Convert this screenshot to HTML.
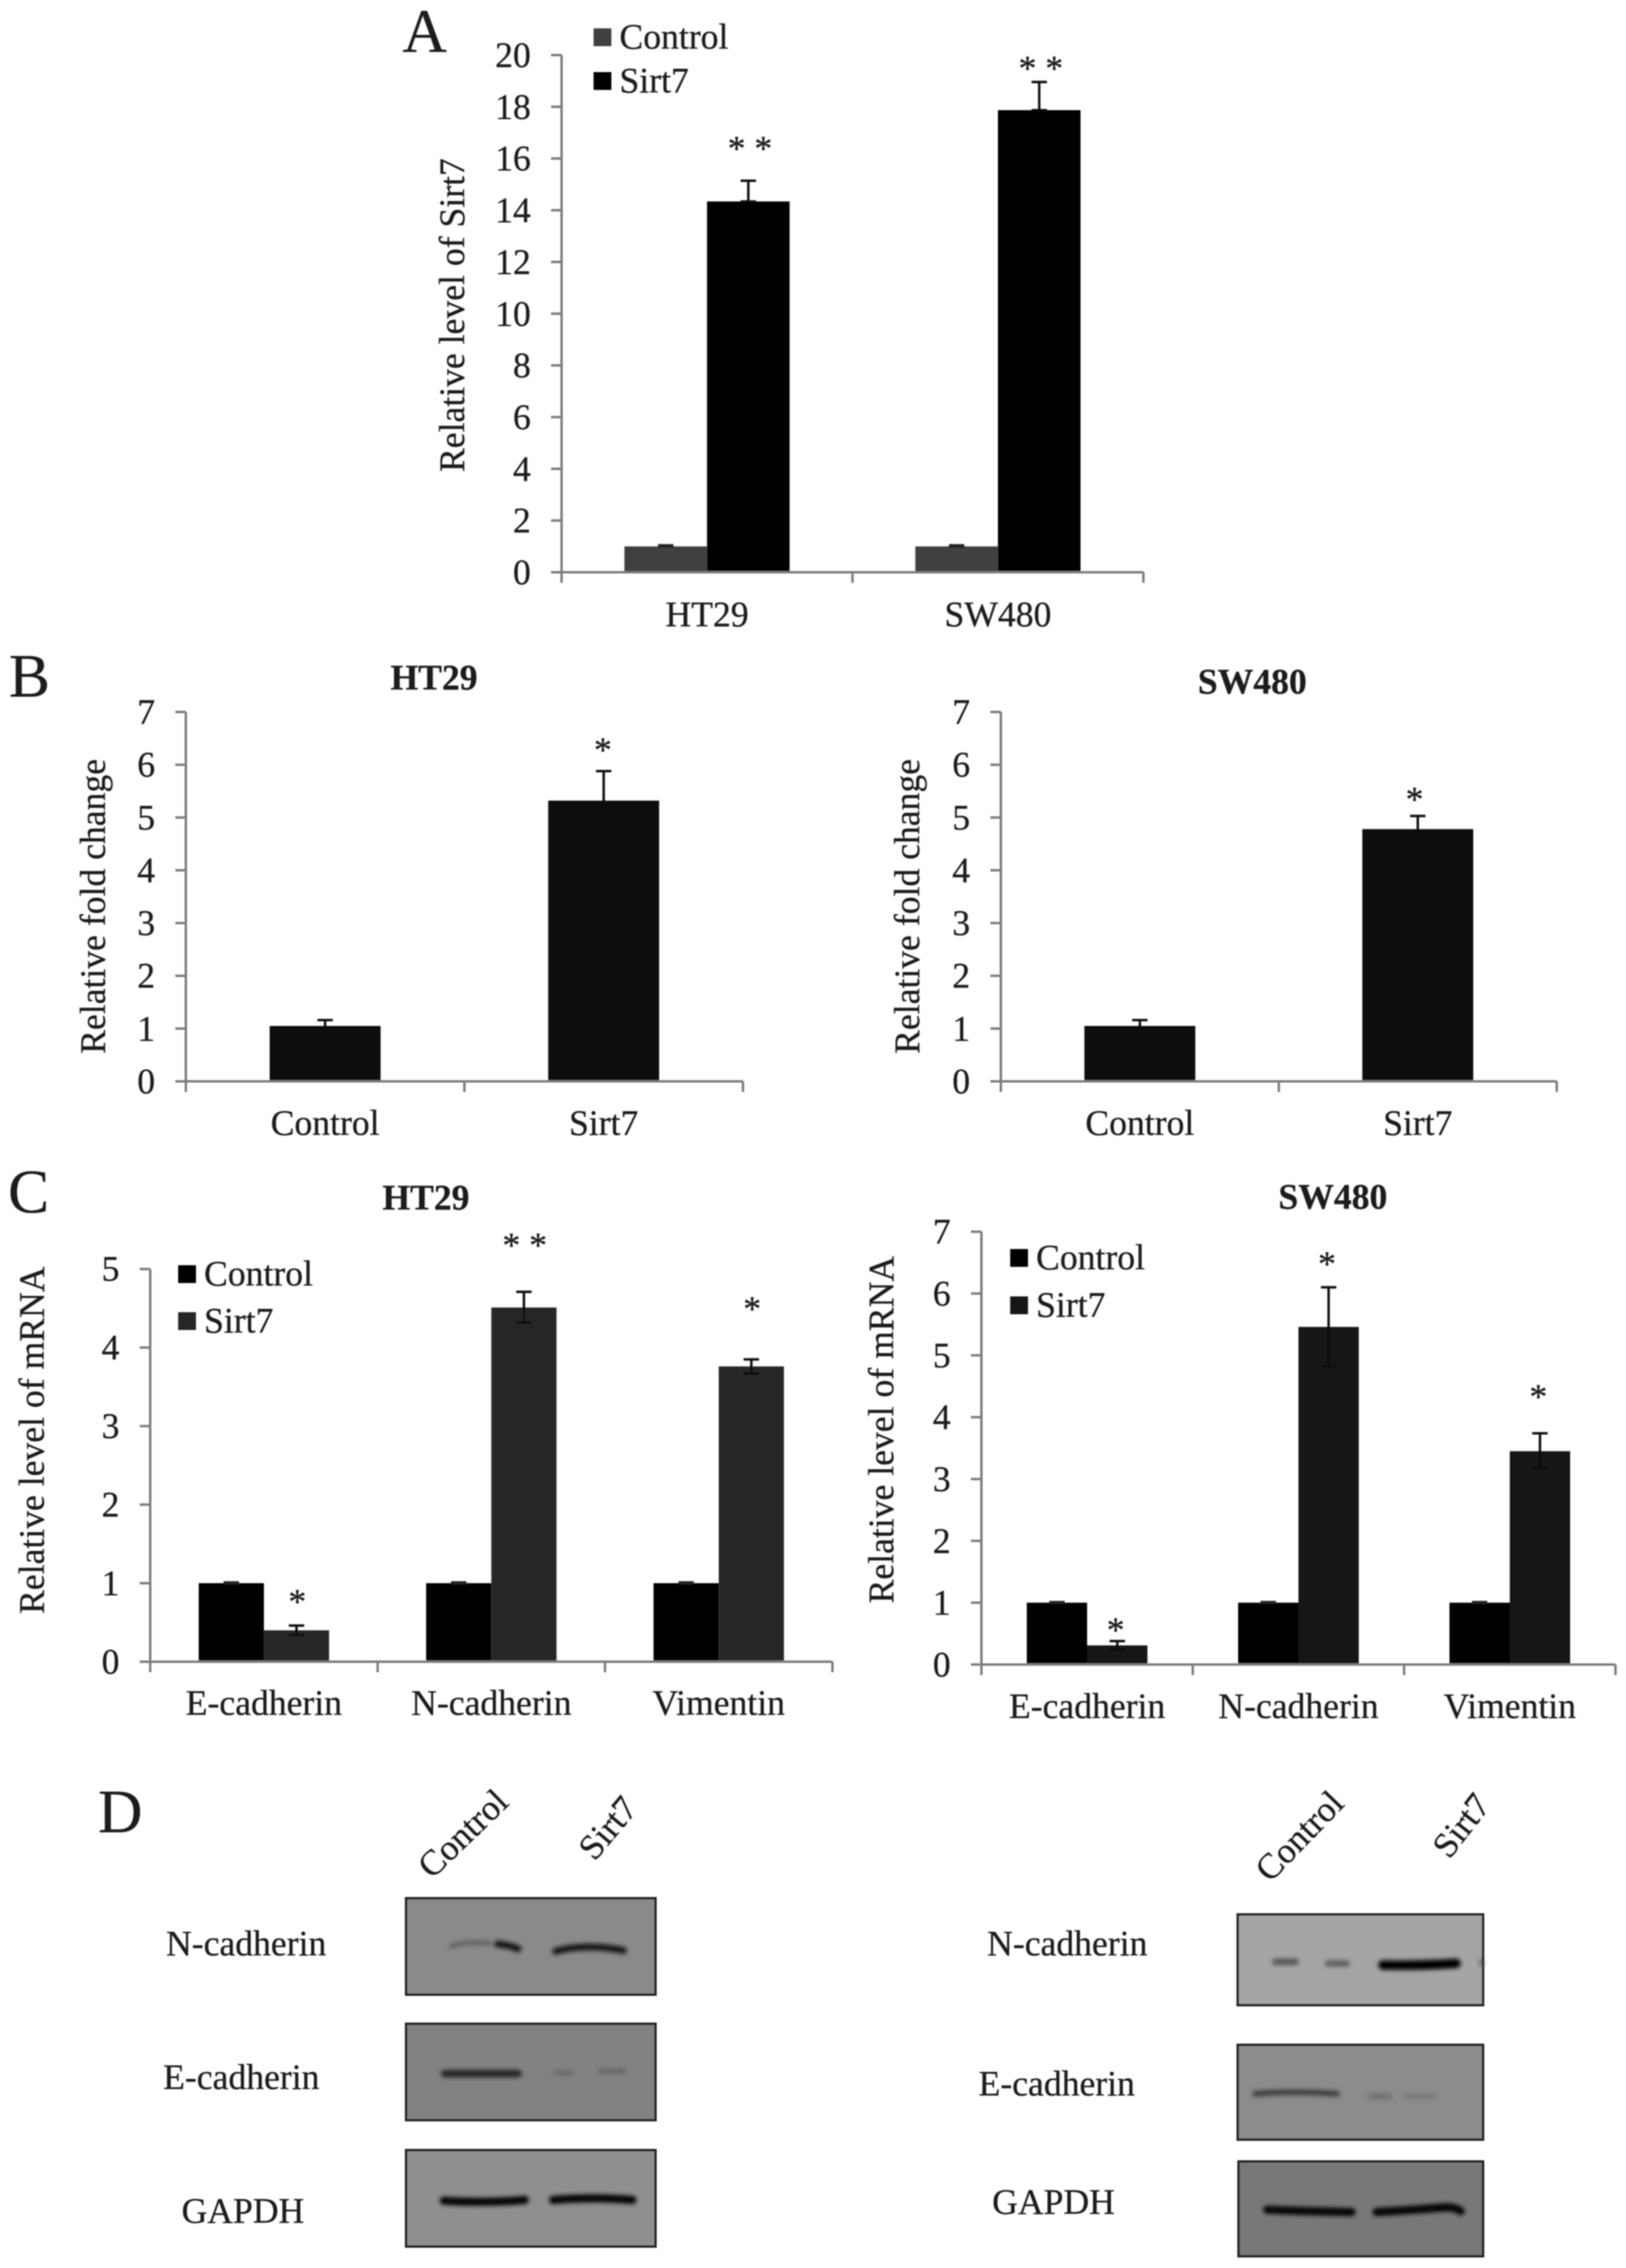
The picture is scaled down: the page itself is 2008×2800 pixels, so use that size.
<!DOCTYPE html>
<html lang="en">
<head>
<meta charset="utf-8">
<title>Sirt7 figure</title>
<style>
html,body{margin:0;padding:0;background:#fff;width:2008px;height:2800px;overflow:hidden}
svg{display:block}
text{font-family:"Liberation Serif",serif;fill:#1a1a1a;stroke:#1a1a1a;stroke-width:.35px}
</style>
</head>
<body>
<svg id="figure" xmlns="http://www.w3.org/2000/svg" width="2008" height="2800" viewBox="0 0 2008 2800">
  <defs>
    <filter id="soft" x="-5%" y="-5%" width="110%" height="110%"><feGaussianBlur stdDeviation="0.9"/></filter>
    <filter id="band" x="-20%" y="-400%" width="140%" height="900%"><feGaussianBlur stdDeviation="2.6"/></filter>
  </defs>
  <g id="root" filter="url(#soft)">
    <text x="497" y="64" font-size="76">A</text>
    <text x="11" y="860" font-size="76">B</text>
    <text x="10" y="1497" font-size="76">C</text>
    <text x="121" y="2262" font-size="76">D</text>

    <g>
      <text transform="translate(572 2264) rotate(-44)" y="14" text-anchor="middle" font-size="44">Control</text>
      <text transform="translate(751 2257) rotate(-50)" y="14" text-anchor="middle" font-size="44">Sirt7</text>
      <text x="304" y="2414" text-anchor="middle" font-size="44">N-cadherin</text>
      <text x="298" y="2579" text-anchor="middle" font-size="44">E-cadherin</text>
      <text x="300" y="2744" text-anchor="middle" font-size="44">GAPDH</text>
      <g>
        <rect x="501.5" y="2343.5" width="308" height="119" fill="#8a8a8a" stroke="#222" stroke-width="3"/>
        <g fill="none" filter="url(#band)" stroke-linecap="round">
          <path d="M557 2403 Q575 2396 605 2399" stroke="#5a5a5a" stroke-width="5"/>
          <path d="M614 2400 Q628 2401 640 2406" stroke="#111" stroke-width="8"/>
          <path d="M686 2409 Q725 2399 770 2408" stroke="#0c0c0c" stroke-width="8"/>
        </g>
      </g>
      <g>
        <rect x="501.5" y="2498.5" width="308" height="119" fill="#828282" stroke="#222" stroke-width="3"/>
        <g fill="none" filter="url(#band)" stroke-linecap="round">
          <path d="M549 2560 L640 2560" stroke="#222" stroke-width="9"/>
          <path d="M686 2559 L706 2559" stroke="#6c6c6c" stroke-width="7"/>
          <path d="M742 2557 L770 2557" stroke="#686868" stroke-width="7"/>
        </g>
      </g>
      <g>
        <rect x="501.5" y="2654.5" width="308" height="119" fill="#8f8f8f" stroke="#222" stroke-width="3"/>
        <g fill="none" filter="url(#band)" stroke-linecap="round">
          <path d="M548 2717 Q600 2720 648 2716" stroke="#000" stroke-width="10"/>
          <path d="M683 2716 Q730 2712 781 2716" stroke="#000" stroke-width="10"/>
        </g>
      </g>
    </g>

    <g>
      <text transform="translate(1605 2267) rotate(-46)" y="14" text-anchor="middle" font-size="44">Control</text>
      <text transform="translate(1805 2254) rotate(-52)" y="14" text-anchor="middle" font-size="44">Sirt7</text>
      <text x="1318" y="2414" text-anchor="middle" font-size="44">N-cadherin</text>
      <text x="1305" y="2587" text-anchor="middle" font-size="44">E-cadherin</text>
      <text x="1301" y="2733" text-anchor="middle" font-size="44">GAPDH</text>
      <g>
        <rect x="1528.5" y="2363.5" width="303" height="112" fill="#a5a5a5" stroke="#222" stroke-width="3"/>
        <g fill="none" filter="url(#band)" stroke-linecap="round">
          <path d="M1575 2422 L1600 2422" stroke="#555" stroke-width="8"/>
          <path d="M1640 2424 L1663 2424" stroke="#5e5e5e" stroke-width="8"/>
          <path d="M1708 2426 Q1750 2427 1798 2424" stroke="#000" stroke-width="12"/>
          <path d="M1829 2421 L1830 2425" stroke="#444" stroke-width="4"/>
        </g>
      </g>
      <g>
        <rect x="1528.5" y="2524.5" width="303" height="117" fill="#8c8c8c" stroke="#222" stroke-width="3"/>
        <g fill="none" filter="url(#band)" stroke-linecap="round">
          <path d="M1550 2585 Q1600 2581 1651 2585" stroke="#3a3a3a" stroke-width="7"/>
          <path d="M1693 2588 L1716 2588" stroke="#6e6e6e" stroke-width="7"/>
          <path d="M1735 2588 L1772 2588" stroke="#777" stroke-width="6"/>
        </g>
      </g>
      <g>
        <rect x="1529.5" y="2668.5" width="302" height="117" fill="#787878" stroke="#222" stroke-width="3"/>
        <g fill="none" filter="url(#band)" stroke-linecap="round">
          <path d="M1565 2728 Q1610 2730 1669 2731" stroke="#000" stroke-width="10"/>
          <path d="M1700 2731 Q1750 2728 1785 2725 Q1798 2725 1804 2730" stroke="#000" stroke-width="10"/>
        </g>
      </g>
    </g>
  </g>
</svg>
<script>
// ---------- Chart data ----------
var aCategories = ['HT29', 'SW480'];
var aSeries = ['Control', 'Sirt7'];
var aTicks = [0, 2, 4, 6, 8, 10, 12, 14, 16, 18, 20];
var aControl = [1.0, 1.0];
var aControlHigh = [1.04, 1.04];
var aControlLow = [1.0, 1.0];
var aSirt7 = [14.34, 17.87];
var aSirt7High = [15.14, 18.96];
var aSirt7Low = [14.34, 17.87];
var aStars = ['* *', '* *'];
var aStarLevels = [16.55, 19.65];

var bCategories = ['Control', 'Sirt7'];
var bTicks = [0, 1, 2, 3, 4, 5, 6, 7];
var bLeftValues = [1.05, 5.32];
var bLeftHigh = [1.16, 5.88];
var bLeftLow = [0.94, 4.77];
var bLeftStars = ['', '*'];
var bLeftStarLevels = [0, 6.36];
var bRightValues = [1.05, 4.78];
var bRightHigh = [1.16, 5.03];
var bRightLow = [0.94, 4.52];
var bRightStars = ['', '*'];
var bRightStarLevels = [0, 5.43];

var cCategories = ['E-cadherin', 'N-cadherin', 'Vimentin'];
var cSeries = ['Control', 'Sirt7'];
var cLeftTicks = [0, 1, 2, 3, 4, 5];
var cLeftControl = [1.0, 1.0, 1.0];
var cLeftControlHigh = [1.01, 1.01, 1.01];
var cLeftControlLow = [1.0, 1.0, 1.0];
var cLeftSirt7 = [0.40, 4.51, 3.76];
var cLeftSirt7High = [0.46, 4.71, 3.85];
var cLeftSirt7Low = [0.34, 4.32, 3.67];
var cLeftStars = ['*', '* *', '*'];
var cLeftStarLevels = [0.82, 5.36, 4.55];
var cRightTicks = [0, 1, 2, 3, 4, 5, 6, 7];
var cRightControl = [1.0, 1.0, 1.0];
var cRightControlHigh = [1.01, 1.01, 1.01];
var cRightControlLow = [1.0, 1.0, 1.0];
var cRightSirt7 = [0.31, 5.46, 3.45];
var cRightSirt7High = [0.38, 6.10, 3.74];
var cRightSirt7Low = [0.24, 4.82, 3.17];
var cRightStars = ['*', '*', '*'];
var cRightStarLevels = [0.63, 6.55, 4.40];

// ---------- Drawing ----------
var SVG_NS = 'http://www.w3.org/2000/svg';
var AXIS_COLOR = '#7d7d7d';
var root = document.getElementById('root');

function make(tag, parent, props, content) {
  var el = document.createElementNS(SVG_NS, tag);
  for (var k in props) { el.setAttribute(k, props[k]); }
  if (content !== undefined) { el.textContent = content; }
  parent.appendChild(el);
  return el;
}

function drawChart(chart) {
  var box = chart.box;
  var n = chart.categories.length;
  var slot = (box.xEnd - box.x0) / n;
  var yMax = chart.ticks[chart.ticks.length - 1];
  function yScale(v) { return box.y0 - (v / yMax) * (box.y0 - box.yTop); }
  function xCenter(i) { return box.x0 + slot * (i + 0.5); }

  var g = make('g', root, {});
  
  

  if (chart.title) {
    var title = make('text', g, {x: box.titleX, y: box.titleY, 'text-anchor': 'middle', 'font-size': 44, 'font-weight': 'bold'}, chart.title);
    
    
  }

  var yTitle = make('text', g, {transform: 'translate(' + box.labelX + ' ' + box.labelY + ') rotate(-90)', 'text-anchor': 'middle', 'font-size': box.labelSize}, chart.yLabel);
  
  

  // series bars
  var count = chart.series.length;
  chart.series.forEach(function (s, si) {
    s.values.forEach(function (v, i) {
      var bx = xCenter(i) - count * box.barWidth / 2 + si * box.barWidth;
      var bar = make('rect', g, {x: bx, y: yScale(v), width: box.barWidth, height: box.y0 - yScale(v), fill: s.color});
      
      
    });
  });

  // error bars
  chart.series.forEach(function (s, si) {
    s.values.forEach(function (v, i) {
      var cx = xCenter(i) - count * box.barWidth / 2 + (si + 0.5) * box.barWidth;
      var err = make('path', g, {
        d: 'M' + (cx - 9.5) + ' ' + yScale(s.high[i]) + 'H' + (cx + 9.5) +
           'M' + cx + ' ' + yScale(s.high[i]) + 'V' + yScale(s.low[i]) +
           'M' + (cx - 9.5) + ' ' + yScale(s.low[i]) + 'H' + (cx + 9.5),
        stroke: si === count - 1 || count === 1 ? '#0a0a0a' : '#222', 'stroke-width': 3, fill: 'none'});
      
      
    });
  });

  // significance stars sit over the last series
  chart.stars.forEach(function (label, i) {
    if (!label) { return; }
    var cx = xCenter(i) + (count - 1) * box.barWidth / 2 + (box.starShift || 0);
    var star = make('text', g, {x: cx, y: yScale(chart.starLevels[i]) + 20, 'text-anchor': 'middle', 'font-size': 44}, label);
    
    
  });

  // axes
  var yAxis = make('line', g, {x1: box.x0, x2: box.x0, y1: box.yTop, y2: box.y0 + 13, stroke: AXIS_COLOR, 'stroke-width': 3});
  
  
  var xAxis = make('line', g, {x1: box.x0 - 13, x2: box.xEnd, y1: box.y0, y2: box.y0, stroke: AXIS_COLOR, 'stroke-width': 3});
  
  

  chart.ticks.forEach(function (t) {
    var y = yScale(t);
    var tick = make('line', g, {x1: box.x0 - 13, x2: box.x0, y1: y, y2: y, stroke: AXIS_COLOR, 'stroke-width': 3});
    
    
    var tl = make('text', g, {x: box.x0 - 38, y: y + 14.5, 'text-anchor': 'end', 'font-size': 44}, String(t));
    
    
  });

  chart.categories.forEach(function (c, i) {
    var tx = box.x0 + slot * (i + 1);
    var tick = make('line', g, {x1: tx, x2: tx, y1: box.y0, y2: box.y0 + 13, stroke: AXIS_COLOR, 'stroke-width': 3});
    
    
    var cl = make('text', g, {x: xCenter(i), y: box.catY, 'text-anchor': 'middle', 'font-size': 44}, c);
    
    
  });

  // legend
  if (chart.legend) {
    chart.series.forEach(function (s, si) {
      var lg = chart.legend;
      var sw = make('rect', g, {x: lg.x, y: lg.y + si * lg.step, width: 22, height: 22, fill: s.color});
      
      
      var lt = make('text', g, {x: lg.x + 32, y: lg.y + si * lg.step + 25, 'font-size': 44}, s.name);
      
      
    });
  }
}

drawChart({
  name: 'panel-a-chart', yLabel: 'Relative level of Sirt7',
  categories: aCategories, ticks: aTicks, stars: aStars, starLevels: aStarLevels,
  series: [
    {name: aSeries[0], color: '#3f3f3f', values: aControl, high: aControlHigh, low: aControlLow},
    {name: aSeries[1], color: '#000000', values: aSirt7, high: aSirt7High, low: aSirt7Low}
  ],
  legend: {x: 733, y: 35, step: 54},
  box: {x0: 693.5, xEnd: 1412, y0: 706.5, yTop: 68, barWidth: 102, labelX: 573, labelY: 389, labelSize: 44, catY: 773, starShift: 2}
});

drawChart({
  name: 'panel-b-ht29-chart', title: 'HT29', yLabel: 'Relative fold change',
  categories: bCategories, ticks: bTicks, stars: bLeftStars, starLevels: bLeftStarLevels,
  series: [{name: 'Fold change', color: '#111111', values: bLeftValues, high: bLeftHigh, low: bLeftLow}],
  box: {x0: 229.5, xEnd: 917.5, y0: 1335, yTop: 879, barWidth: 137, labelX: 129.5, labelY: 1119, labelSize: 44, catY: 1401, titleX: 536, titleY: 851, starShift: -1}
});

drawChart({
  name: 'panel-b-sw480-chart', title: 'SW480', yLabel: 'Relative fold change',
  categories: bCategories, ticks: bTicks, stars: bRightStars, starLevels: bRightStarLevels,
  series: [{name: 'Fold change', color: '#111111', values: bRightValues, high: bRightHigh, low: bRightLow}],
  box: {x0: 1236, xEnd: 1922.5, y0: 1335, yTop: 879, barWidth: 137, labelX: 1135, labelY: 1119, labelSize: 44, catY: 1401, titleX: 1546.5, titleY: 856, starShift: -4}
});

drawChart({
  name: 'panel-c-ht29-chart', title: 'HT29', yLabel: 'Relative level of mRNA',
  categories: cCategories, ticks: cLeftTicks, stars: cLeftStars, starLevels: cLeftStarLevels,
  series: [
    {name: cSeries[0], color: '#000000', values: cLeftControl, high: cLeftControlHigh, low: cLeftControlLow},
    {name: cSeries[1], color: '#262626', values: cLeftSirt7, high: cLeftSirt7High, low: cLeftSirt7Low}
  ],
  legend: {x: 220, y: 1562, step: 58},
  box: {x0: 185.5, xEnd: 1028, y0: 2051.5, yTop: 1566.7, barWidth: 80.5, labelX: 54, labelY: 1778, labelSize: 44, catY: 2117, titleX: 526, titleY: 1493, starShift: 1}
});

drawChart({
  name: 'panel-c-sw480-chart', title: 'SW480', yLabel: 'Relative level of mRNA',
  categories: cCategories, ticks: cRightTicks, stars: cRightStars, starLevels: cRightStarLevels,
  series: [
    {name: cSeries[0], color: '#000000', values: cRightControl, high: cRightControlHigh, low: cRightControlLow},
    {name: cSeries[1], color: '#141414', values: cRightSirt7, high: cRightSirt7High, low: cRightSirt7Low}
  ],
  legend: {x: 1247.5, y: 1542, step: 58.5},
  box: {x0: 1212, xEnd: 1995, y0: 2055, yTop: 1520.6, barWidth: 74.5, labelX: 1103, labelY: 1765, labelSize: 44, catY: 2121, titleX: 1646, titleY: 1492, starShift: -2}
});
</script>
</body>
</html>
